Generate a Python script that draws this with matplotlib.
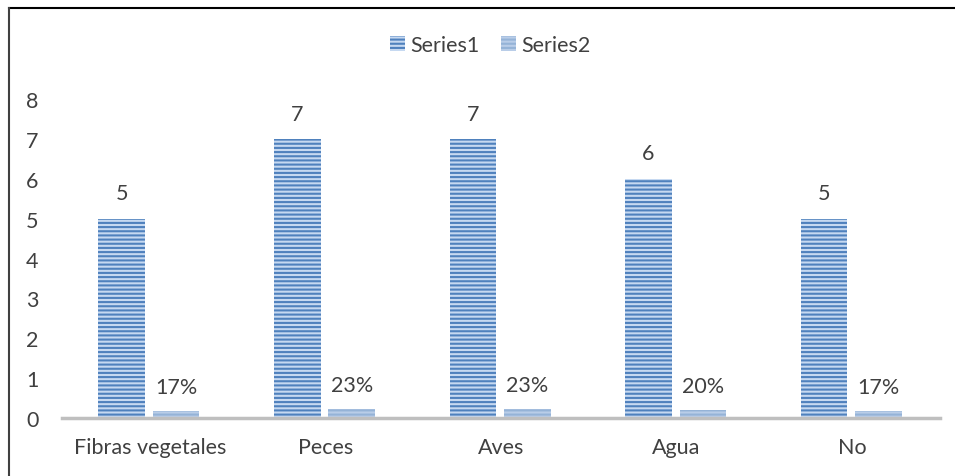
import numpy as np
import matplotlib.pyplot as plt
from matplotlib.patches import Patch
from matplotlib.lines import Line2D

categories = ["Fibras vegetales", "Peces", "Aves", "Agua", "No"]
series1 = [5, 7, 7, 6, 5]
series2 = [0.17, 0.23, 0.23, 0.20, 0.17]
series1_labels = ["5", "7", "7", "6", "5"]
series2_labels = ["17%", "23%", "23%", "20%", "17%"]

plt.rcParams['font.family'] = ['Lato', 'DejaVu Sans']
plt.rcParams['hatch.linewidth'] = 1.5
text_color = "#404040"
fs = 15.5

fig = plt.figure(figsize=(9.55, 4.77), dpi=100)
ax = fig.add_axes([62 / 955, 1 - 419 / 477, 878 / 955, 319 / 477])

x = np.arange(len(categories))
w = 0.265
b1 = ax.bar(x - 0.16, series1, w, color="#C6D9F1", edgecolor="#4F81BD",
            hatch="----", linewidth=0, zorder=2)
b2 = ax.bar(x + 0.15, series2, w, color="#B9CDE8", edgecolor="#95B3D7",
            hatch="----", linewidth=0, zorder=2)

for rect, lab in zip(b1, series1_labels):
    ax.annotate(lab, (rect.get_x() + rect.get_width() / 2, rect.get_height()),
                xytext=(0, 11), textcoords="offset points", ha="center",
                va="bottom", fontsize=fs, color=text_color)
for rect, lab in zip(b2, series2_labels):
    ax.annotate(lab, (rect.get_x() + rect.get_width() / 2, rect.get_height()),
                xytext=(0, 10), textcoords="offset points", ha="center",
                va="bottom", fontsize=fs, color=text_color)

ax.set_xlim(-0.5, len(categories) - 0.5)
ax.set_ylim(0, 8)
ax.set_yticks(range(0, 9))
ax.set_xticks(x)
ax.set_xticklabels(categories)
ax.tick_params(axis="both", length=0, labelsize=fs, labelcolor=text_color)
ax.tick_params(axis="x", pad=14)
ax.tick_params(axis="y", pad=17)
for s in ["top", "right", "left"]:
    ax.spines[s].set_visible(False)
ax.spines["bottom"].set_color("#BFBFBF")
ax.spines["bottom"].set_linewidth(2.5)
ax.spines["bottom"].set_zorder(3)

handles = [Patch(facecolor="#C6D9F1", edgecolor="#4F81BD", hatch="----", linewidth=0),
           Patch(facecolor="#B9CDE8", edgecolor="#95B3D7", hatch="----", linewidth=0)]
fig.legend(handles, ["Series1", "Series2"], loc="center", bbox_to_anchor=(490 / 955, 1 - 46 / 477),
           ncol=2, frameon=False, fontsize=fs, labelcolor=text_color,
           handlelength=0.7, handleheight=0.7, handletextpad=0.25, columnspacing=1.0)

# frame lines at top and left
fig.add_artist(Line2D([9 / 955, 1], [1 - 9 / 477, 1 - 9 / 477], color="black", lw=1.5))
fig.add_artist(Line2D([9 / 955, 9 / 955], [0, 1 - 9 / 477], color="#404040", lw=1.5))

fig.savefig("out.png", dpi=100)
